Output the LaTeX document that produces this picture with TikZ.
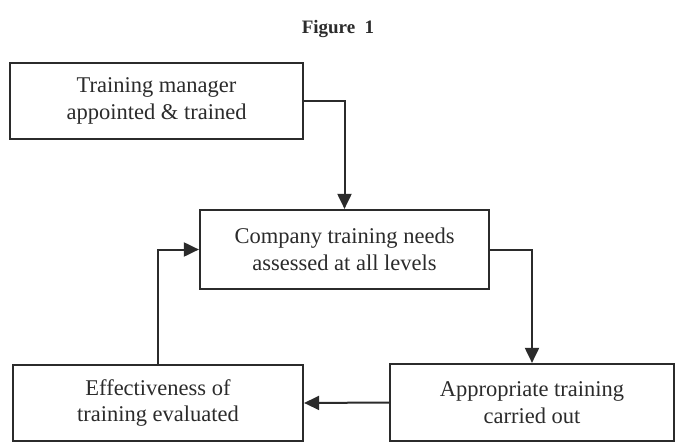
\documentclass[tikz,border=0pt]{standalone}
\usepackage{fontspec}
\setmainfont{Liberation Serif}
\usepackage{tikz}
\usetikzlibrary{positioning, arrows.meta}

\definecolor{ink}{HTML}{2B2B2B}

\begin{document}
\begin{tikzpicture}[
    x=1pt, y=-1pt,
    stagebox/.style={rectangle, draw=ink, line width=2.2pt, text=ink, align=center,
        inner sep=0pt, font=\fontsize{22.5}{26.5}\selectfont},
    flow/.style={draw=ink, line width=2pt, -{Triangle[length=15pt,width=14pt]}}
]
\useasboundingbox (0,0) rectangle (678,442);
\node[font=\bfseries\fontsize{19}{21}\selectfont, text=ink](title) at (338,29){Figure\enspace 1};

\node[stagebox, minimum width=293pt, minimum height=76pt](manager) at (156.5,101){Training manager\\appointed \& trained};
\node[stagebox, minimum width=289pt, minimum height=79pt](needs) at (344.5,249.5){Company training needs\\assessed at all levels};
\node[stagebox, minimum width=284pt, minimum height=77pt](training) at (532,402.5){Appropriate training\\carried out};
\node[stagebox, minimum width=290pt, minimum height=76pt](evaluated) at (158,403){Effectiveness of\\training evaluated};

\draw[flow] (manager.east) -| (needs.north);
\draw[flow] (needs.east) -| (training.north);
\draw[flow] (training.west) -- (evaluated.east);
\draw[flow] (evaluated.north) |- (needs.west);
\end{tikzpicture}
\end{document}
